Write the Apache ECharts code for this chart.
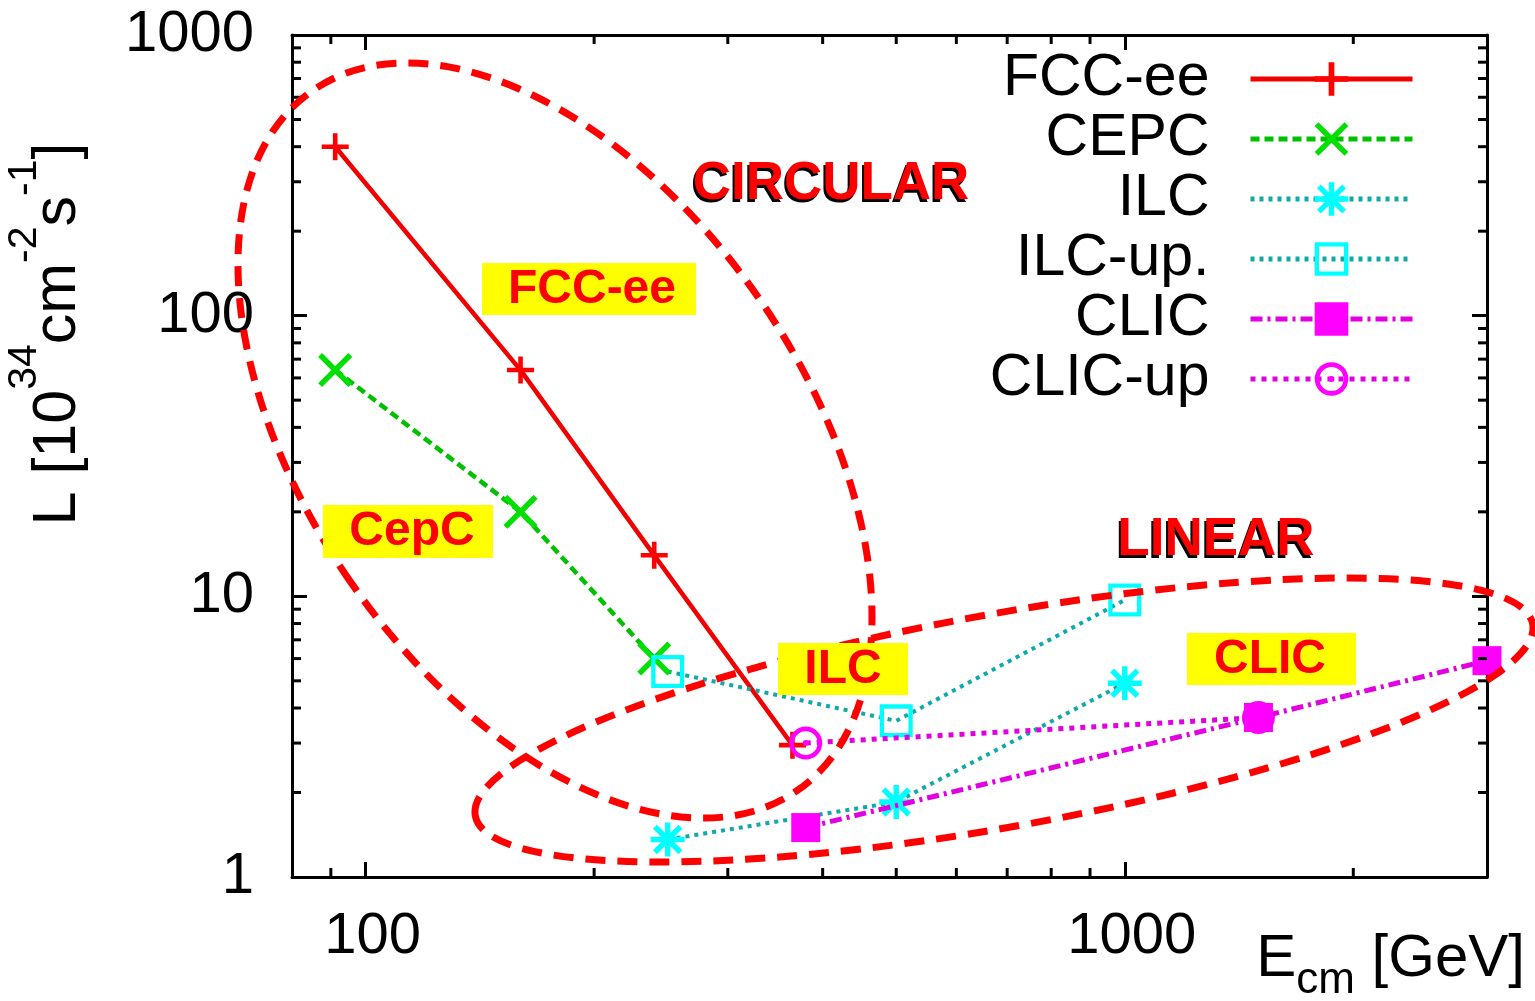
<!DOCTYPE html>
<html><head><meta charset="utf-8">
<script src="https://cdn.jsdelivr.net/npm/echarts@6/dist/echarts.min.js"></script>
<style>html,body{margin:0;padding:0;background:#fff}#c{width:1535px;height:1001px}</style>
</head><body><div id="c"></div>
<script>
// ---------------- data ----------------
const seriesNames = ['FCC-ee', 'CEPC', 'ILC', 'ILC-up.', 'CLIC', 'CLIC-up'];
const fccE = [91.2, 160, 240, 365];
const fccL = [400, 64, 14, 2.95];
const cepcE = [91.2, 160, 240];
const cepcL = [64, 20, 6];
const ilcE = [250, 500, 1000];
const ilcL = [1.36, 1.85, 4.9];
const ilcUpE = [250, 500, 1000];
const ilcUpL = [5.4, 3.6, 9.7];
const clicE = [380, 1500, 3000];
const clicL = [1.5, 3.7, 5.9];
const clicUpE = [380, 1500];
const clicUpL = [3.0, 3.7];
const xMinorTicks = [90, 200, 300, 400, 500, 600, 700, 800, 900, 2000];
const yMinorTicks = [2, 3, 4, 5, 6, 7, 8, 9, 20, 30, 40, 50, 60, 70, 80, 90, 200, 300, 400, 500, 600, 700, 800, 900];
const annotationLabels = ['FCC-ee', 'CepC', 'ILC', 'CLIC'];
const regionLabels = ['CIRCULAR', 'LINEAR'];

// ---------------- styles ----------------
const FONT = 'Liberation Sans';
const RED = '#ff0000';
const PLUS = 'path://M-10,-1.7H10V1.7H-10Z M-1.7,-10H1.7V10H-1.7Z';
const CROSS = 'path://M-8.73,-11.27L11.27,8.73L8.73,11.27L-11.27,-8.73Z M11.27,-8.73L-8.73,11.27L-11.27,8.73L8.73,-11.27Z';
const STAR = 'path://M-10,-1.6H10V1.6H-10Z M-1.6,-10H1.6V10H-1.6Z M-6.37,-8.63L8.63,6.37L6.37,8.63L-8.63,-6.37Z M8.63,-6.37L-6.37,8.63L-8.63,6.37L6.37,-8.63Z M-3,-3H3V3H-3Z';
const OSQUARE = 'path://M-10,-10H10V10H-10Z M-7.4,-7.4V7.4H7.4V-7.4Z';
const ORING = 'path://M0,-10A10,10,0,1,1,0,10A10,10,0,1,1,0,-10Z M0,-7.2A7.2,7.2,0,1,0,0,7.2A7.2,7.2,0,1,0,0,-7.2Z M-1.8,0A1.8,1.8,0,1,1,1.8,0A1.8,1.8,0,1,1,-1.8,0Z';

function mkLine(name, E, L, o) {
  return {
    type: 'line', name: name, xAxisIndex: 0, yAxisIndex: 0,
    data: E.map((e, i) => [e, L[i]]),
    symbol: o.symbol, symbolSize: o.size, showSymbol: true,
    lineStyle: { color: o.lineColor, width: o.width, type: o.dash, cap: 'butt' },
    itemStyle: { color: o.color, borderWidth: 0 },
    z: o.z || 2, clip: false, silent: true, emphasis: { disabled: true }
  };
}

const axisLineStyle = { show: true, onZero: false, lineStyle: { color: '#000', width: 3 } };
const majorTick = { show: true, inside: true, length: 15, lineStyle: { color: '#000', width: 3 } };

function minorX(params, api) {
  const cs = params.coordSys;
  const x = api.coord([api.value(0), api.value(1)])[0];
  const b = cs.y + cs.height, t = cs.y;
  return { type: 'group', children: [
    { type: 'line', shape: { x1: x, y1: b, x2: x, y2: b - 9 }, style: { stroke: '#000', lineWidth: 3 } },
    { type: 'line', shape: { x1: x, y1: t, x2: x, y2: t + 9 }, style: { stroke: '#000', lineWidth: 3 } }
  ]};
}
function minorY(params, api) {
  const cs = params.coordSys;
  const y = api.coord([api.value(0), api.value(1)])[1];
  const l = cs.x, r = cs.x + cs.width;
  return { type: 'group', children: [
    { type: 'line', shape: { x1: l, y1: y, x2: l + 9, y2: y }, style: { stroke: '#000', lineWidth: 3 } },
    { type: 'line', shape: { x1: r, y1: y, x2: r - 9, y2: y }, style: { stroke: '#000', lineWidth: 3 } }
  ]};
}

function box(x, y, w, h, label, cx, cy) {
  return [
    { type: 'rect', shape: { x: x, y: y, width: w, height: h }, style: { fill: '#ffff00' }, z: 60, silent: true },
    { type: 'text', x: cx, y: cy, z: 61, silent: true,
      style: { text: label, fill: RED, font: 'bold 48px "Liberation Sans"', align: 'center', verticalAlign: 'middle', textAlign: 'center', textVerticalAlign: 'middle' } }
  ];
}
function shadowText(label, cx, cy) {
  return [
    { type: 'text', x: cx - 2, y: cy + 3, z: 60, silent: true,
      style: { text: label, fill: '#000', font: 'bold 53px "Liberation Sans"', align: 'center', verticalAlign: 'middle', textAlign: 'center', textVerticalAlign: 'middle' } },
    { type: 'text', x: cx, y: cy, z: 61, silent: true,
      style: { text: label, fill: RED, font: 'bold 53px "Liberation Sans"', align: 'center', verticalAlign: 'middle', textAlign: 'center', textVerticalAlign: 'middle' } }
  ];
}

const chart = echarts.init(document.getElementById('c'), null, { renderer: 'canvas' });
const option = {
  animation: false,
  backgroundColor: '#ffffff',
  textStyle: { fontFamily: FONT },
  grid: { left: 292, right: 48, top: 35, bottom: 124, containLabel: false, outerBoundsMode: 'none' },
  xAxis: [
    { type: 'log', logBase: 10, min: 80, max: 3000, position: 'bottom',
      axisLine: axisLineStyle, axisTick: majorTick, splitLine: { show: false },
      axisLabel: { show: true, fontSize: 58, color: '#000', fontFamily: FONT, margin: 31,
        showMinLabel: false, showMaxLabel: false, padding: [0, 0, 0, 14],
        formatter: v => String(Math.round(v)) },
      name: '{b|E}{s|cm}{b| [GeV]}', nameLocation: 'end', nameGap: 38,
      nameTextStyle: { align: 'right', verticalAlign: 'top', padding: [52, 0, 0, 0],
        rich: {
          b: { fontSize: 60, color: '#000', fontFamily: FONT, verticalAlign: 'top' },
          s: { fontSize: 44, color: '#000', fontFamily: FONT, padding: [30, 0, 0, 0], verticalAlign: 'bottom' }
        } } },
    { type: 'log', logBase: 10, min: 80, max: 3000, position: 'top',
      axisLine: axisLineStyle, axisTick: majorTick, splitLine: { show: false }, axisLabel: { show: false } }
  ],
  yAxis: [
    { type: 'log', logBase: 10, min: 1, max: 1000, position: 'left',
      axisLine: axisLineStyle, axisTick: majorTick, splitLine: { show: false },
      axisLabel: { show: true, fontSize: 58, color: '#000', fontFamily: FONT, margin: 38,
        formatter: v => String(Math.round(v)) },
      name: '{b|L [10}{s|34}{b|cm}{s|-2}{b|s}{s|-1}{b|]}', nameLocation: 'middle', nameRotate: 90, nameGap: 203,
      nameTextStyle: { padding: [0, 0, 0, 244],
        rich: {
          b: { fontSize: 61, color: '#000', fontFamily: FONT, verticalAlign: 'bottom' },
          s: { fontSize: 41, color: '#000', fontFamily: FONT, padding: [0, 0, 44, 0], verticalAlign: 'top' }
        } } },
    { type: 'log', logBase: 10, min: 1, max: 1000, position: 'right',
      axisLine: axisLineStyle, axisTick: majorTick, splitLine: { show: false }, axisLabel: { show: false } }
  ],
  legend: {
    data: seriesNames, orient: 'vertical', align: 'right', right: 120, top: 49, padding: 0,
    itemWidth: 162, itemHeight: 42, itemGap: 0, selectedMode: false,
    textStyle: { fontSize: 59, color: '#000', fontFamily: FONT, lineHeight: 60, padding: [0, 36, 0, 0] },
    lineStyle: { width: 5 }
  },
  series: [
    mkLine('FCC-ee', fccE, fccL, { symbol: PLUS, size: 27, color: RED, lineColor: '#f00000', width: 4.5, dash: 'solid' }),
    mkLine('CEPC', cepcE, cepcL, { symbol: CROSS, size: 34, color: '#00e000', lineColor: '#00c000', width: 4.5, dash: [9, 5] }),
    mkLine('ILC', ilcE, ilcL, { symbol: STAR, size: 34, color: '#00ffff', lineColor: '#10a8a8', width: 4, dash: [4, 5] }),
    mkLine('ILC-up.', ilcUpE, ilcUpL, { symbol: OSQUARE, size: 33, color: '#00ffff', lineColor: '#10a8a8', width: 4, dash: [4, 5] }),
    mkLine('CLIC', clicE, clicL, { symbol: 'rect', size: 29, color: '#ff00ff', lineColor: '#e000e0', width: 5, dash: [12, 5, 3, 5], z: 4 }),
    mkLine('CLIC-up', clicUpE, clicUpL, { symbol: ORING, size: 33, color: '#ff00ff', lineColor: '#e000e0', width: 5, dash: [5, 6], z: 3 }),
    { type: 'custom', name: 'xminor', xAxisIndex: 0, yAxisIndex: 0, silent: true, z: 5,
      data: xMinorTicks.map(v => [v, 10]), renderItem: minorX },
    { type: 'custom', name: 'yminor', xAxisIndex: 0, yAxisIndex: 0, silent: true, z: 5,
      data: yMinorTicks.map(v => [100, v]), renderItem: minorY }
  ],
  graphic: { elements: [
    { type: 'ellipse', x: 555, y: 440.5, rotation: 34.7 * Math.PI / 180, z: 50, silent: true,
      shape: { cx: 0, cy: 0, rx: 248.6, ry: 425.7 },
      style: { fill: null, stroke: RED, lineWidth: 7, lineDash: [20, 12] } },
    { type: 'ellipse', x: 1004, y: 720, rotation: 10.27 * Math.PI / 180, z: 50, silent: true,
      shape: { cx: 0, cy: 0, rx: 537.3, ry: 106.5 },
      style: { fill: null, stroke: RED, lineWidth: 7, lineDash: [20, 12] } }
  ].concat(
    box(482, 263, 214, 52, annotationLabels[0], 592, 290),
    box(323, 505, 170, 53, annotationLabels[1], 412, 532),
    box(778, 643, 130, 52, annotationLabels[2], 843, 670),
    box(1187, 633, 169, 52, annotationLabels[3], 1270, 660),
    shadowText(regionLabels[0], 831, 184),
    shadowText(regionLabels[1], 1216, 540)
  ) }
};
chart.setOption(option);
</script>
</body></html>
